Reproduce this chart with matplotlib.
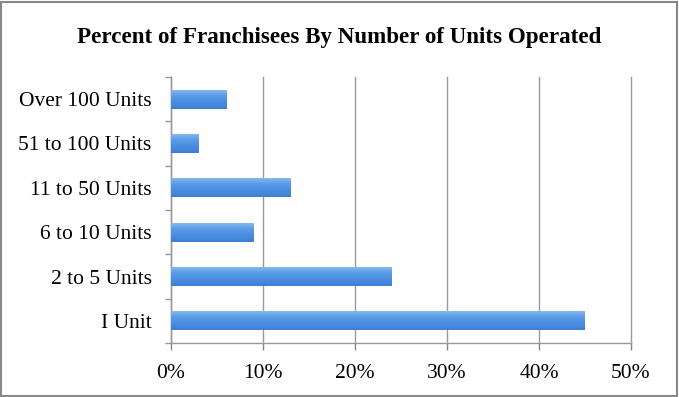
import matplotlib
matplotlib.use("Agg")
import matplotlib.pyplot as plt
import numpy as np
from matplotlib.ticker import FuncFormatter
from matplotlib.patches import Rectangle
from matplotlib.colors import LinearSegmentedColormap

categories = ["I Unit", "2 to 5 Units", "6 to 10 Units", "11 to 50 Units", "51 to 100 Units", "Over 100 Units"]
values = [45, 24, 9, 13, 3, 6]
xticks = [0, 10, 20, 30, 40, 50]
title = "Percent of Franchisees By Number of Units Operated"

plt.rcParams['font.family'] = ['Liberation Serif', 'DejaVu Serif']

fig = plt.figure(figsize=(6.79, 3.97), dpi=100)
ax = fig.add_axes([171/679, 54/397, 460/679, 266/397])

y = np.arange(len(categories))
bars = ax.barh(y, values, height=0.43, color="#4a8ee0", zorder=3, linewidth=0)
cmap = LinearSegmentedColormap.from_list("g", ["#3f7fd3", "#4a8de0", "#5a9ce8", "#8dbcf0"])
grad = np.linspace(0, 1, 64).reshape(-1, 1)
for b in bars:
    x0, y0 = b.get_x(), b.get_y()
    w, h = b.get_width(), b.get_height()
    im = ax.imshow(grad, cmap=cmap, aspect='auto', extent=(x0, x0 + w, y0, y0 + h),
                   origin='lower', zorder=4)
    im.set_clip_path(b)

ax.set_xlim(0, 50)
ax.set_ylim(-0.5, len(categories) - 0.5)
ax.set_xticks(xticks)
ax.xaxis.set_major_formatter(FuncFormatter(lambda v, p: f"{int(v)}%"))
ax.set_yticks(y)
ax.set_yticklabels(categories)
ax.set_yticks(np.arange(-0.5, len(categories), 1), minor=True)
ax.tick_params(axis='y', which='major', length=0, pad=14, labelsize=15.5)
ax.tick_params(axis='y', which='minor', length=4, color="#999999", width=1)
ax.tick_params(axis='x', length=5, color="#888888", width=1, labelsize=15.5, pad=10)
ax.grid(axis='x', color="#999999", linewidth=1, zorder=0)
for gl in ax.get_xgridlines():
    gl.set_clip_on(False)
for s in ['top', 'right']:
    ax.spines[s].set_visible(False)
for s in ['left', 'bottom']:
    ax.spines[s].set_color("#999999")
    ax.spines[s].set_linewidth(1)

fig.text(0.5, 1 - 37/397, title, ha='center', va='center', fontsize=16.6, fontweight='bold')
fig.patches.append(Rectangle((0.002, 0.003), 0.995, 0.993, transform=fig.transFigure,
                             fill=False, edgecolor="#888888", linewidth=1.5))
fig.savefig("out.png", dpi=100)
